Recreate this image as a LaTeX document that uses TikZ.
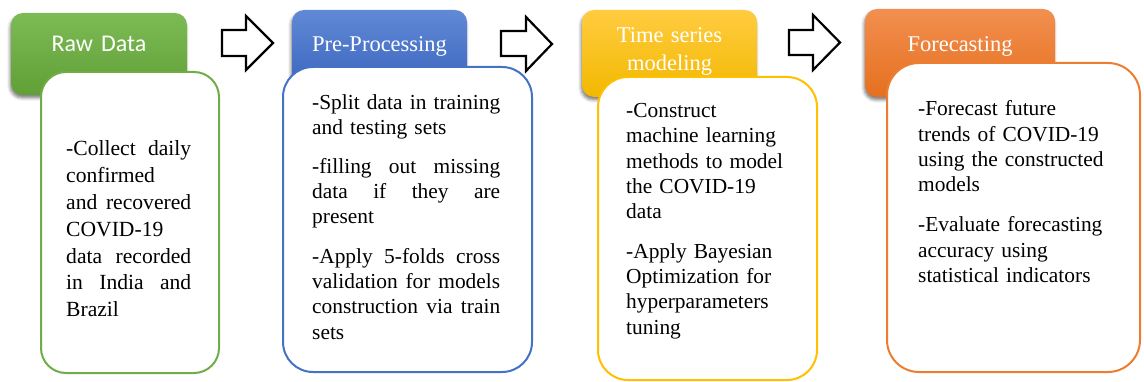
\documentclass[tikz,border=0pt]{standalone}
\usepackage{fontspec}
\setmainfont{Liberation Serif}
\newfontfamily\calibri{Carlito}
\usetikzlibrary{shadows.blur}
\definecolor{gborder}{HTML}{70AD47}
\definecolor{gtop}{RGB}{125,186,85}
\definecolor{gbot}{RGB}{96,160,54}
\definecolor{bborder}{HTML}{4472C4}
\definecolor{btop}{RGB}{96,137,214}
\definecolor{bbot}{RGB}{57,99,188}
\definecolor{yborder}{HTML}{FFC000}
\definecolor{ytop}{RGB}{255,204,64}
\definecolor{ybot}{RGB}{242,184,0}
\definecolor{oborder}{HTML}{ED7D31}
\definecolor{otop}{RGB}{242,143,80}
\definecolor{obot}{RGB}{229,112,30}
% justified line of given width: words separated by \hfill
\newcommand\JL[2]{\leavevmode\hbox to #1{#2}}
\tikzset{
  hdr/.style={rectangle, rounded corners=12pt, inner sep=0pt,
    blur shadow={shadow xshift=-1pt, shadow yshift=-3pt, shadow blur radius=3pt, shadow opacity=50}},
  bodybox/.style={rectangle, draw, line width=2pt, fill=white, inner sep=0pt},
  hdrtext/.style={text=white, anchor=base, inner sep=0pt, align=center, text width=172pt,
    font=\fontsize{22.5}{28}\selectfont},
  bodytext/.style={anchor=base west, inner sep=0pt, align=left, text=black,
    font=\fontsize{21.4}{25.3}\selectfont},
  blockarrow/.style={draw=black, line width=2.2pt, fill=white, miter limit=10},
}
\begin{document}
\begin{tikzpicture}[x=1pt, y=-1pt]
\useasboundingbox (0,0) rectangle (1144,382);
% headers
\node[hdr, top color=gtop, bottom color=gbot, minimum width=176pt, minimum height=82pt] (h1) at (99,54) {};
\node[hdr, top color=btop, bottom color=bbot, minimum width=175pt, minimum height=83pt] (h2) at (379.5,51.5) {};
\node[hdr, top color=ytop, bottom color=ybot, minimum width=175pt, minimum height=87pt] (h3) at (669.5,53.5) {};
\node[hdr, top color=otop, bottom color=obot, minimum width=190pt, minimum height=88pt] (h4) at (960,53) {};
% header texts
\node[hdrtext, font=\calibri\fontsize{24}{28}\selectfont] (h1t) at (99,51.7) {Raw Data};
\node[hdrtext] (h2t) at (379.5,51.7) {Pre-Processing};
\node[hdrtext] (h3t) at (669.5,42.7) {Time series\\modeling};
\node[hdrtext] (h4t) at (960,51.7) {Forecasting};
% bodies
\node[bodybox, draw=gborder, rounded corners=25pt, minimum width=178pt, minimum height=301pt] (b1) at (130,222.5) {};
\node[bodybox, draw=bborder, rounded corners=30pt, minimum width=249pt, minimum height=305pt] (b2) at (407.5,219.5) {};
\node[bodybox, draw=yborder, rounded corners=30pt, minimum width=219pt, minimum height=303pt] (b3) at (707.5,228.5) {};
\node[bodybox, draw=oborder, rounded corners=32pt, minimum width=253pt, minimum height=309pt] (b4) at (1013.5,217.5) {};
% body texts
\node[bodytext, text width=130pt, font=\fontsize{21.6}{26.8}\selectfont] (t1) at (66,156)
  {\JL{125pt}{-Collect \hfill daily}\\ confirmed\\ \JL{125pt}{and \hfill recovered}\\ COVID-19\\ \JL{125pt}{data \hfill recorded}\\ \JL{125pt}{in \hfill India \hfill and}\\ Brazil};
\node[bodytext, text width=195pt] (t2) at (312,109.3)
  {\JL{188pt}{-Split \hfill data \hfill in \hfill training}\\ and testing sets\\[13.4pt] \JL{188pt}{-filling \hfill out \hfill missing}\\ \JL{188pt}{data \hfill if \hfill they \hfill are}\\ present\\[14pt] \JL{188pt}{-Apply \hfill 5-folds \hfill cross}\\ \JL{188pt}{validation \hfill for \hfill models}\\ \JL{188pt}{construction \hfill via \hfill train}\\ sets};
\node[bodytext, text width=185pt] (t3) at (626,117.5)
  {-Construct\\ machine learning\\ methods to model\\ the COVID-19\\ data\\[14.4pt] -Apply Bayesian\\ Optimization for\\ hyperparameters\\ tuning};
\node[bodytext, text width=195pt] (t4) at (918,116)
  {-Forecast future\\ trends of COVID-19\\ using the constructed\\ models\\[14.7pt] -Evaluate forecasting\\ accuracy using\\ statistical indicators};
% block arrows
\draw[blockarrow] (222,30) -- (246,30) -- (246,16) -- (273,43) -- (246,70) -- (246,56) -- (222,56) -- cycle;
\draw[blockarrow] (501,31) -- (526,31) -- (526,17) -- (552,44) -- (526,71) -- (526,56) -- (501,56) -- cycle;
\draw[blockarrow] (789,30) -- (813,30) -- (813,15) -- (840,42.5) -- (813,70) -- (813,55) -- (789,55) -- cycle;
\end{tikzpicture}
\end{document}
